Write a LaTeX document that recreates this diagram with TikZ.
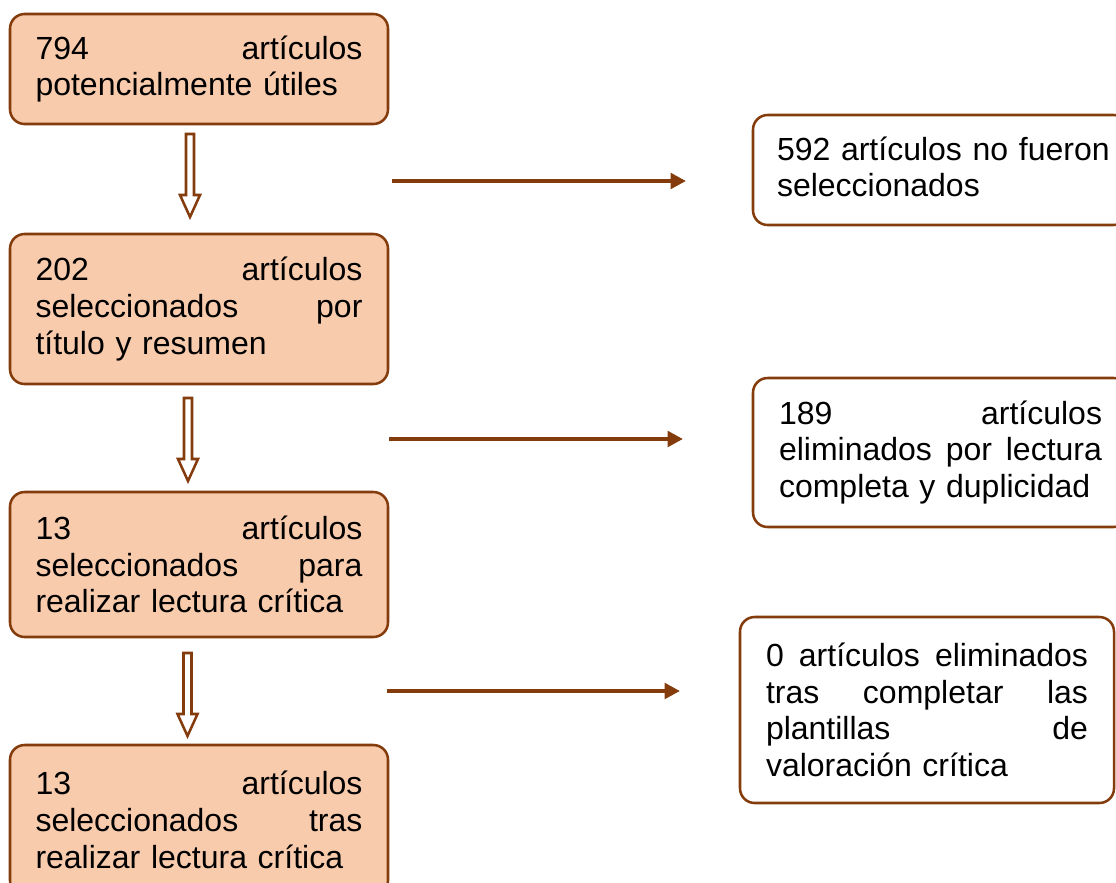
\documentclass[tikz,border=0pt]{standalone}
\usepackage{fontspec}
\setmainfont{Liberation Sans}
\usetikzlibrary{arrows.meta}
\definecolor{boxfill}{HTML}{F8CBAD}
\definecolor{brownline}{HTML}{843C0C}
\begin{document}
\begin{tikzpicture}[x=0.75pt,y=-0.75pt,
  box/.style={draw=brownline, line width=1.9pt, rounded corners=11pt, inner sep=0pt,
    font=\fontsize{24pt}{27.5pt}\selectfont, align=left},
  leftbox/.style={box, fill=boxfill, text width=245.25pt, minimum width=283.5pt},
  rightbox/.style={box, fill=white},
  flowarrow/.style={draw=brownline, line width=3pt, -{Triangle[length=11.5pt,width=11.5pt]}},
  blockarrow/.pic={\draw[draw=brownline, line width=1.9pt, fill=white, line join=miter]
     (-4,0) -- (-4,61) -- (-10,61) -- (0,83) -- (10,61) -- (4,61) -- (4,0) -- cycle;}
]
\useasboundingbox (0,0) rectangle (1116,882);
\clip (0,0) rectangle (1116,882);

% left column
\node[leftbox, minimum height=82.5pt] (b1) at (199,69)
  {794\hfill artículos\\potencialmente útiles};
\node[leftbox, minimum height=112.5pt] (b2) at (199,309)
  {202\hfill artículos\\seleccionados\hfill por\\título y resumen};
\node[leftbox, minimum height=108.75pt] (b3) at (199,564.5)
  {13\hfill artículos\\seleccionados\hfill para\\realizar lectura crítica};
\node[leftbox, minimum height=112.5pt] (b4) at (199,820)
  {13\hfill artículos\\seleccionados\hfill tras\\realizar lectura crítica};

% right column
\node[rightbox, text width=245.25pt, minimum width=281.25pt, minimum height=82.5pt] (r1) at (940.5,170)
  {\mbox{592 artículos no fueron}\\seleccionados\vphantom{y}};
\node[rightbox, text width=242.25pt, minimum width=281.25pt, minimum height=111.75pt] (r2) at (940.5,452.5)
  {189\hfill artículos\\eliminados\hfill por\hfill lectura\\completa y duplicidad};
\node[rightbox, text width=241.5pt, minimum width=280.5pt, minimum height=139.5pt] (r3) at (927,710)
  {0\hfill artículos\hfill eliminados\\tras\hfill completar\hfill las\\plantillas\hfill de\\valoración crítica};

% block arrows between left boxes
\coordinate (d1) at (190,134);
\coordinate (d2) at (188,398);
\coordinate (d3) at (187.5,653);
\pic at (d1) {blockarrow};
\pic at (d2) {blockarrow};
\pic at (d3) {blockarrow};

% horizontal arrows
\coordinate (h1s) at (392,181); \coordinate (h1e) at (686,181);
\coordinate (h2s) at (389,439); \coordinate (h2e) at (683,439);
\coordinate (h3s) at (387,691); \coordinate (h3e) at (680,691);
\draw[flowarrow] (h1s) -- (h1e);
\draw[flowarrow] (h2s) -- (h2e);
\draw[flowarrow] (h3s) -- (h3e);
\end{tikzpicture}
\end{document}
